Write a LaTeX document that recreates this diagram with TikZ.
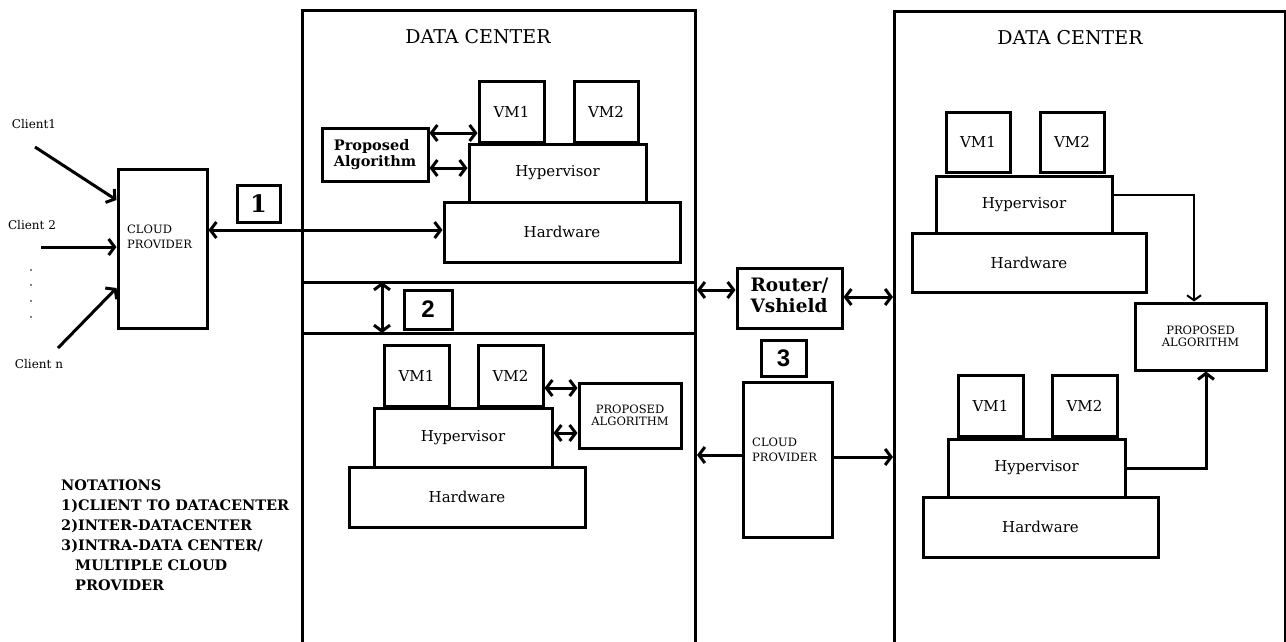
\documentclass[tikz,border=0pt]{standalone}
\usepackage{fontspec}
\setmainfont{DejaVu Serif}
\newfontfamily\numfont{Liberation Sans}
\usetikzlibrary{arrows.meta}

\begin{document}
\begin{tikzpicture}[x=1pt,y=-1pt,
  box/.style={draw, line width=3pt, inner sep=0pt, align=center},
  plain/.style={inner sep=0pt, align=left},
  title/.style={inner sep=0pt, font=\fontsize{19}{21}\selectfont},
  mid/.style={font=\fontsize{15}{17}\selectfont},
  small/.style={font=\fontsize{11.5}{15.5}\selectfont},
  tiny/.style={inner sep=0pt, font=\fontsize{12}{13}\selectfont},
  num/.style={box, font=\fontsize{24}{24}\selectfont\bfseries},
  sfnum/.style={box, font=\fontsize{24}{24}\selectfont\numfont\bfseries},
  barb/.tip={Straight Barb[length=6pt,width=16pt]},
  dar/.style={line width=3pt, barb-barb},
  ar/.style={line width=3pt, -barb},
  thinar/.style={line width=2pt, -{Straight Barb[length=5pt,width=14pt]}},
]
\useasboundingbox (0,0) rectangle (1286,641);
\clip (0,0) rectangle (1286,641);

% ---------- data centre frames ----------
\node[box, anchor=north west, minimum width=393, minimum height=660] (dc1) at (301,9) {};
\node[box, anchor=north west, minimum width=391, minimum height=660] (dc2) at (893,10) {};
\draw[line width=3pt] (dc1.west |- 0,282) -- (dc1.east |- 0,282);
\draw[line width=3pt] (dc1.west |- 0,333) -- (dc1.east |- 0,333);
\node[title] (t1) at (478,37) {DATA CENTER};
\node[title] (t2) at (1070,38) {DATA CENTER};

% ---------- clients and first cloud provider ----------
\node[box, minimum width=89, minimum height=159] (cp1) at (162.5,248.5) {};
\node[plain, small, anchor=west] (cp1t) at (127,237) {CLOUD\\PROVIDER};
\node[tiny] (cl1) at (34,124) {Client1};
\node[tiny] (cl2) at (32,225) {Client 2};
\node[tiny] (cln) at (39,364) {Client n};
\coordinate (c1s) at (35,147);
\coordinate (c2s) at (41,247);
\coordinate (cns) at (58,348);
\draw[ar] (c1s) -- (cp1.west |- 0,200);
\draw[ar] (c2s) -- (cp1.west |- 0,247);
\draw[ar] (cns) -- (cp1.west |- 0,288);
\foreach \yy in {270,285,301,317} \fill (31,\yy) circle (0.8);

\node[num, minimum width=43, minimum height=37] (n1) at (258.5,203.5) {1};

% ---------- upper-left data centre ----------
\node[box, mid, minimum width=65, minimum height=61] (vm1a) at (511.5,111.5) {VM1};
\node[box, mid, minimum width=64, minimum height=61] (vm2a) at (606,111.5) {VM2};
\node[box, mid, minimum width=177, minimum height=58] (hva) at (557.5,173) {Hypervisor};
\node[box, mid, minimum width=236, minimum height=60] (hwa) at (562,232) {Hardware};
\node[box, minimum width=106, minimum height=53, font=\fontsize{14.5}{19}\selectfont\bfseries] (paa) at (375,154.5) {\begin{tabular}{@{}l@{}}Proposed\\[-3pt]Algorithm\end{tabular}};
\draw[dar] (paa.east |- 0,133) -- (vm1a.west |- 0,133);
\draw[dar] (paa.east |- 0,168) -- (hva.west |- 0,168);
\draw[dar] (cp1.east |- 0,230) -- (hwa.west |- 0,230);

% ---------- inter-datacentre link ----------
\coordinate (s1) at (382,282);
\coordinate (s2) at (382,333);
\draw[dar] (s1) -- (s2);
\node[sfnum, minimum width=48, minimum height=39] (n2) at (428,309.5) {2};

% ---------- lower-left data centre ----------
\node[box, mid, minimum width=65, minimum height=61] (vm1b) at (416.5,375.5) {VM1};
\node[box, mid, minimum width=65, minimum height=61] (vm2b) at (510.5,375.5) {VM2};
\node[box, mid, minimum width=178, minimum height=59] (hvb) at (463,437.5) {Hypervisor};
\node[box, mid, minimum width=236, minimum height=60] (hwb) at (467,497) {Hardware};
\node[box, small, minimum width=102, minimum height=65] (pab) at (630,415.5) {PROPOSED\\[-3pt]ALGORITHM};
\draw[dar] (vm2b.east |- 0,388) -- (pab.west |- 0,388);
\draw[dar] (hvb.east |- 0,433) -- (pab.west |- 0,433);

% ---------- router and second cloud provider ----------
\node[box, minimum width=105, minimum height=60, font=\fontsize{18.5}{22}\selectfont\bfseries] (router) at (789.5,298) {\begin{tabular}{@{}l@{}}Router/\\[-1pt]Vshield\end{tabular}};
\draw[dar] (dc1.east |- 0,290) -- (router.west |- 0,290);
\draw[dar] (router.east |- 0,297) -- (dc2.west |- 0,297);
\node[sfnum, minimum width=45, minimum height=36] (n3) at (783.5,358) {3};
\node[box, minimum width=89, minimum height=155] (cp2) at (787.5,459.5) {};
\node[plain, small, anchor=west] (cp2t) at (752,450) {CLOUD\\PROVIDER};
\draw[ar] (cp2.west |- 0,455) -- (dc1.east |- 0,455);
\draw[ar] (cp2.east |- 0,457) -- (dc2.west |- 0,457);

% ---------- right data centre ----------
\node[box, mid, minimum width=64, minimum height=60] (vm1c) at (978,142) {VM1};
\node[box, mid, minimum width=64, minimum height=60] (vm2c) at (1072,142) {VM2};
\node[box, mid, minimum width=176, minimum height=57] (hvc) at (1024,204.5) {Hypervisor};
\node[box, mid, minimum width=234, minimum height=59] (hwc) at (1029,262.5) {Hardware};
\node[box, small, minimum width=131, minimum height=67] (pac) at (1200.5,336.5) {PROPOSED\\[-3pt]ALGORITHM};
\node[box, mid, minimum width=65, minimum height=61] (vm1d) at (990.5,405.5) {VM1};
\node[box, mid, minimum width=65, minimum height=61] (vm2d) at (1084.5,405.5) {VM2};
\node[box, mid, minimum width=177, minimum height=58] (hvd) at (1036.5,468) {Hypervisor};
\node[box, mid, minimum width=235, minimum height=60] (hwd) at (1040.5,527) {Hardware};
\draw[thinar] (hvc.east |- 0,195) -| (pac.north -| 1194,0);
\draw[ar] (hvd.east |- 0,468) -| (pac.south -| 1206,0);

% ---------- legend ----------
\node[plain, anchor=north west, font=\fontsize{14.5}{20}\selectfont\bfseries] (notes) at (61,480)
  {NOTATIONS\\1)CLIENT TO DATACENTER\\2)INTER-DATACENTER\\3)INTRA-DATA CENTER/\\\hspace*{14pt}MULTIPLE CLOUD\\\hspace*{14pt}PROVIDER};
\end{tikzpicture}
\end{document}
